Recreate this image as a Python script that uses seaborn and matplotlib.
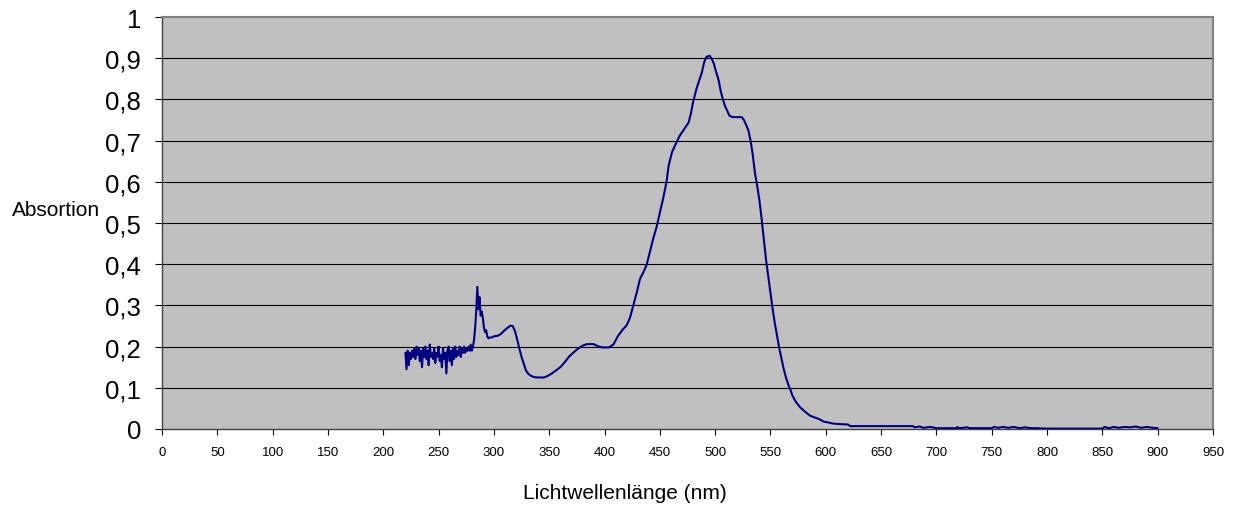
import numpy as np
import pandas as pd
import seaborn as sns
import matplotlib.pyplot as plt

# wavelength (nm) and absorbance
wl_noise = list(range(220, 281))
ab_noise = [0.185, 0.145, 0.19, 0.155, 0.185, 0.17, 0.19, 0.175, 0.195, 0.17,
            0.2, 0.18, 0.195, 0.165, 0.19, 0.15, 0.195, 0.175, 0.2, 0.17,
            0.19, 0.155, 0.205, 0.175, 0.185, 0.17, 0.195, 0.16, 0.185, 0.175,
            0.2, 0.165, 0.18, 0.15, 0.195, 0.17, 0.185, 0.135, 0.19, 0.2,
            0.165, 0.19, 0.155, 0.195, 0.17, 0.2, 0.175, 0.19, 0.18, 0.2,
            0.175, 0.195, 0.185, 0.2, 0.185, 0.195, 0.19, 0.2, 0.19, 0.205,
            0.19]

wl_main = [281, 282, 283, 284, 285, 286, 287, 288, 289, 290, 291, 292, 293, 294,
           295, 296, 298, 300, 303, 306, 309, 312, 315, 317, 319, 321, 323, 325,
           327, 329, 331, 333, 336, 340, 345, 348, 352, 356, 360, 364, 368, 372,
           376, 380, 384, 390, 394, 398, 404, 408, 412, 416, 420, 423, 426, 429,
           432, 435, 438, 441, 444, 447, 450, 453, 456, 458, 461, 464, 468, 472,
           476, 478, 480, 483, 486, 488, 490, 492, 495, 497, 499, 501, 503, 505,
           507, 509, 511, 513, 516, 520, 524, 526, 528, 530, 532, 534, 536, 538,
           540, 542, 544, 546, 548, 550, 552, 554, 556, 558, 560, 562, 564, 566,
           568, 570, 572, 574, 577, 580, 583, 586, 590, 594, 598, 602, 607, 612,
           620, 622, 640, 660, 679, 680, 685, 688, 695, 700, 718, 719, 720, 728,
           730, 750, 752, 756, 760, 765, 770, 775, 780, 785, 790, 800, 820, 850,
           852, 856, 860, 865, 870, 875, 880, 885, 890, 895, 900]
ab_main = [0.2, 0.215, 0.245, 0.285, 0.345, 0.29, 0.32, 0.275, 0.285, 0.27,
           0.245, 0.235, 0.24, 0.225, 0.22, 0.222, 0.222, 0.225, 0.226, 0.23,
           0.238, 0.245, 0.251, 0.25, 0.238, 0.218, 0.195, 0.175, 0.158, 0.142,
           0.134, 0.13, 0.126, 0.125, 0.125, 0.128, 0.134, 0.142, 0.15, 0.162,
           0.176, 0.186, 0.195, 0.202, 0.206, 0.206, 0.201, 0.198, 0.198, 0.205,
           0.225, 0.24, 0.252, 0.27, 0.3, 0.33, 0.364, 0.38, 0.398, 0.43,
           0.462, 0.49, 0.525, 0.56, 0.6, 0.64, 0.672, 0.69, 0.712, 0.728,
           0.744, 0.765, 0.793, 0.825, 0.85, 0.866, 0.89, 0.903, 0.906, 0.898,
           0.885, 0.865, 0.848, 0.82, 0.8, 0.783, 0.772, 0.76, 0.757, 0.757,
           0.757, 0.75, 0.738, 0.725, 0.7, 0.665, 0.62, 0.59, 0.555, 0.51,
           0.46, 0.41, 0.37, 0.33, 0.29, 0.255, 0.225, 0.195, 0.17, 0.145,
           0.125, 0.108, 0.095, 0.08, 0.07, 0.062, 0.052, 0.045, 0.038, 0.032,
           0.028, 0.024, 0.018, 0.016, 0.013, 0.012, 0.011, 0.007, 0.007, 0.007,
           0.007, 0.004, 0.006, 0.003, 0.005, 0.002, 0.002, 0.005, 0.002, 0.004,
           0.002, 0.002, 0.005, 0.003, 0.005, 0.003, 0.005, 0.002, 0.004, 0.002,
           0.002, 0.001, 0.001, 0.001, 0.005, 0.002, 0.005, 0.003, 0.005, 0.004,
           0.006, 0.003, 0.005, 0.003, 0.002]

x_ticks = list(range(0, 951, 50))
y_ticks = [0, 0.1, 0.2, 0.3, 0.4, 0.5, 0.6, 0.7, 0.8, 0.9, 1.0]
y_labels = ["0", "0,1", "0,2", "0,3", "0,4", "0,5", "0,6", "0,7", "0,8", "0,9", "1"]

sns.set_style("white")
plt.rcParams['font.family'] = ['Liberation Sans', 'DejaVu Sans']
plt.rcParams['text.color'] = 'black'
plt.rcParams['axes.labelcolor'] = 'black'
plt.rcParams['xtick.color'] = 'black'
plt.rcParams['ytick.color'] = 'black'

df = pd.DataFrame({'wl': wl_noise + wl_main, 'ab': ab_noise + ab_main})

fig = plt.figure(figsize=(12.35, 5.06), dpi=100)
ax = fig.add_axes([0.1312, 0.1502, 0.851, 0.8142])
ax.set_facecolor('#c0c0c0')

for yv in y_ticks[1:-1]:
    ax.axhline(yv, color='black', lw=0.8, zorder=1)

sns.lineplot(data=df, x='wl', y='ab', ax=ax, estimator=None, sort=False,
             color='#000080', lw=1.5, zorder=3)

ax.set_xlim(0, 950)
ax.set_ylim(0, 1)
ax.set_xticks(x_ticks)
ax.set_xticklabels([str(t) for t in x_ticks], fontsize=9.5)
ax.set_yticks(y_ticks)
ax.set_yticklabels(y_labels, fontsize=18.5)
ax.tick_params(axis='y', direction='out', length=5, width=0.8, pad=10,
               left=True)
ax.tick_params(axis='x', direction='out', length=4, width=0.8, pad=8,
               bottom=True)

for side in ['left', 'bottom']:
    ax.spines[side].set_color('#404040')
    ax.spines[side].set_linewidth(1.0)
for side in ['top', 'right']:
    ax.spines[side].set_color('#808080')
    ax.spines[side].set_linewidth(1.5)

ax.set_xlabel("Lichtwellenlänge (nm)", fontsize=15, va='center')
ax.xaxis.set_label_coords(0.44, -0.153)
ax.set_ylabel("Absortion", fontsize=15, rotation=0, va='center', ha='center')
ax.yaxis.set_label_coords(-0.101, 0.532)

fig.savefig("out.png", dpi=100, facecolor='white')
